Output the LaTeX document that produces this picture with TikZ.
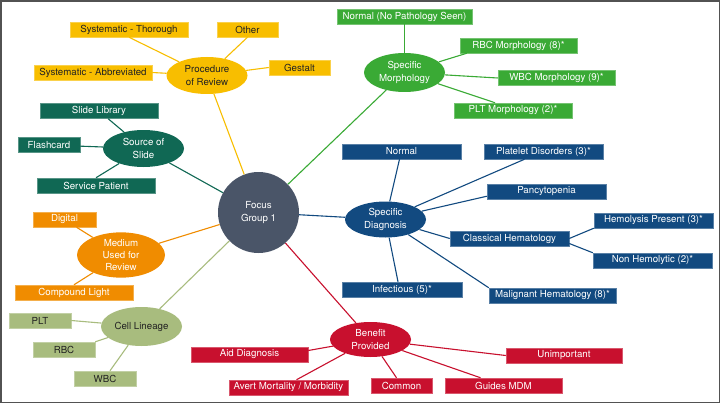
\documentclass[tikz,border=0pt]{standalone}
\usepackage{fontspec}
\setmainfont{TeX Gyre Heros}
\usetikzlibrary{shapes.geometric}
\definecolor{cy}{RGB}{248,190,0}
\definecolor{cdg}{RGB}{16,104,84}
\definecolor{cg}{RGB}{58,170,53}
\definecolor{cb}{RGB}{18,74,128}
\definecolor{co}{RGB}{240,140,0}
\definecolor{csg}{RGB}{168,188,126}
\definecolor{cr}{RGB}{200,16,46}
\definecolor{cs}{RGB}{74,85,104}
\definecolor{ctx}{RGB}{34,34,34}
\newcommand\lbl{\fontsize{9.7}{12.4}\selectfont}
\tikzset{
  box/.style={rectangle, minimum height=15pt, inner sep=0pt, font=\lbl, line width=0.5pt},
  hub/.style={ellipse, inner sep=0pt, align=center, font=\lbl},
  link/.style={line width=1.1pt},
  ybox/.style={box, fill=cy, draw=cy!70!white, text=ctx},
  dgbox/.style={box, fill=cdg, draw=cdg!70!white, text=white},
  gbox/.style={box, fill=cg, draw=cg!70!white, text=white},
  bbox/.style={box, fill=cb, draw=cb!70!white, text=white},
  obox/.style={box, fill=co, draw=co!70!white, text=white},
  sbox/.style={box, fill=csg, draw=csg!70!white, text=ctx},
  rbox/.style={box, fill=cr, draw=cr!70!white, text=white},
}
\begin{document}
\begin{tikzpicture}[x=1pt,y=-1pt]
\fill[white] (0,0) rectangle (721,404);
\useasboundingbox (0,0) rectangle (721,404);
\draw[black!68, line width=1.6pt] (0.8,0.8) rectangle (719.6,402.6);

% centre
\node[circle, fill=cs, minimum size=81pt, inner sep=0pt, text=white, align=center, font=\lbl] (fg) at (258.5,212.5) {Focus\\Group 1};

% procedure of review
\node[hub, fill=cy, text=ctx, minimum width=81pt, minimum height=37pt] (proc) at (207,75.5) {Procedure\\of Review};
\node[ybox, minimum width=118pt] (st) at (129,29.5) {Systematic - Thorough};
\node[ybox, minimum width=61pt] (ot) at (247.5,29.5) {Other};
\node[ybox, minimum width=61pt] (ge) at (299.5,67.5) {Gestalt};
\node[ybox, minimum width=118pt] (sa) at (93,72.5) {Systematic - Abbreviated};

% source of slide
\node[hub, fill=cdg, text=white, minimum width=81pt, minimum height=37pt] (src) at (143.5,148.5) {Source of\\Slide};
\node[dgbox, minimum width=118pt] (sl) at (99,111) {Slide Library};
\node[dgbox, minimum width=62pt] (fc) at (49,145) {Flashcard};
\node[dgbox, minimum width=118pt] (sp) at (96,185.5) {Service Patient};

% specific morphology
\node[hub, fill=cg, text=white, minimum width=81pt, minimum height=39pt] (sm) at (404.5,72.5) {Specific\\Morphology};
\node[gbox, minimum width=135pt] (nn) at (404.5,16.5) {Normal (No Pathology Seen)};
\node[gbox, minimum width=117pt] (rm) at (518.5,45.5) {RBC Morphology (8)*};
\node[gbox, minimum width=117pt] (wm) at (556.5,78) {WBC Morphology (9)*};
\node[gbox, minimum width=118pt] (pm) at (513,110.5) {PLT Morphology (2)*};

% specific diagnosis
\node[hub, fill=cb, text=white, minimum width=81pt, minimum height=36pt] (sd) at (385.5,219.5) {Specific\\Diagnosis};
\node[bbox, minimum width=119pt] (nb) at (401.5,151.5) {Normal};
\node[bbox, minimum width=119pt] (pd) at (543.5,151.5) {Platelet Disorders (3)*};
\node[bbox, minimum width=119pt] (pc) at (546.5,191.5) {Pancytopenia};
\node[bbox, minimum width=119pt] (ch) at (509.5,238.5) {Classical Hematology};
\node[bbox, minimum width=119pt] (hp) at (653.5,220.5) {Hemolysis Present (3)*};
\node[bbox, minimum width=119pt] (nh) at (652.5,260.5) {Non Hemolytic (2)*};
\node[bbox, minimum width=120pt] (inf) at (402,289.5) {Infectious (5)*};
\node[bbox, minimum width=127pt] (mh) at (552.5,295.5) {Malignant Hematology (8)*};

% medium used for review
\node[hub, fill=co, text=white, minimum width=88pt, minimum height=44pt] (med) at (121,255) {Medium\\Used for\\Review};
\node[obox, minimum width=63pt] (dg) at (64.5,219.5) {Digital};
\node[obox, minimum width=118pt] (cl) at (74,292.5) {Compound Light};

% cell lineage
\node[hub, fill=csg, text=ctx, minimum width=81pt, minimum height=39pt] (cel) at (141.5,326.5) {Cell Lineage};
\node[sbox, minimum width=62pt] (plt) at (40,320.5) {PLT};
\node[sbox, minimum width=62pt] (rbc) at (64,349.5) {RBC};
\node[sbox, minimum width=62pt] (wbc) at (105,378.5) {WBC};

% benefit provided
\node[hub, fill=cr, text=white, minimum width=81pt, minimum height=35pt] (bp) at (370.5,339.5) {Benefit\\Provided};
\node[rbox, minimum width=117pt] (ad) at (249.5,354.5) {Aid Diagnosis};
\node[rbox, minimum width=119pt] (av) at (288.5,387.5) {Avert Mortality / Morbidity};
\node[rbox, minimum width=61pt] (cm) at (401.5,385.5) {Common};
\node[rbox, minimum width=117pt] (gm) at (503.5,385.5) {Guides MDM};
\node[rbox, minimum width=116pt] (un) at (564,355.5) {Unimportant};

% connectors
\begin{scope}[link, cy]
\draw (st.south) -- (proc);
\draw (ot.south) -- (proc);
\draw (ge.west) -- (proc);
\draw (sa.east) -- (proc);
\draw (proc) -- (fg);
\end{scope}
\begin{scope}[link, cdg]
\draw (sl) -- (src);
\draw (fc) -- (src);
\draw (sp.north) -- (src);
\draw (src) -- (fg);
\end{scope}
\begin{scope}[link, cg]
\draw (nn.south) -- (sm);
\draw ([xshift=7pt]rm.south west) -- (sm);
\draw (wm.west) -- (sm);
\draw ([xshift=-18pt]pm.north) -- (sm);
\draw (sm) -- (fg);
\end{scope}
\begin{scope}[link, cb]
\draw ([xshift=-2pt]nb.south) -- (sd);
\draw ([xshift=-19pt]pd.south) -- (sd);
\draw ([yshift=3pt]pc.south west) -- (sd);
\draw (ch.west) -- (sd);
\draw (ch.east) -- (hp.south west);
\draw ([yshift=-5pt]ch.east) -- (nh.north west);
\draw ([xshift=-4pt]inf.north) -- (sd);
\draw (mh.north west) -- (sd);
\draw (fg) -- (sd);
\end{scope}
\begin{scope}[link, co]
\draw ([xshift=12pt]dg.south) -- (med);
\draw (cl.north) -- (med);
\draw (med) -- (fg);
\end{scope}
\begin{scope}[link, csg]
\draw (plt.east) -- (cel);
\draw (rbc.north east) -- (cel);
\draw ([xshift=5pt]wbc.north) -- (cel);
\draw (cel) -- (fg);
\end{scope}
\begin{scope}[link, cr]
\draw (un.west) -- (bp);
\draw ([xshift=-23pt]gm.north) -- (bp);
\draw ([xshift=-5pt]cm.north) -- (bp);
\draw ([yshift=4pt]ad.east) -- (bp);
\draw ([xshift=8pt]av.north) -- (bp);
\draw (fg) -- (bp);
\end{scope}
\end{tikzpicture}
\end{document}
